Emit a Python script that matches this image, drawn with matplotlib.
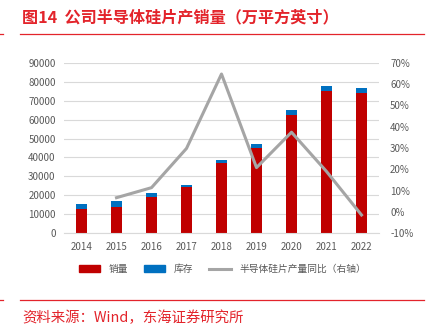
import numpy as np
import matplotlib.pyplot as plt
from matplotlib.lines import Line2D
from matplotlib.patches import Patch

plt.rcParams['font.family'] = ['Noto Sans CJK SC', 'DejaVu Sans']

years = ['2014', '2015', '2016', '2017', '2018', '2019', '2020', '2021', '2022']
sales = [13000, 13700, 19150, 24600, 36900, 45150, 62400, 75050, 74000]
stock = [2450, 3500, 2250, 900, 1800, 1800, 2800, 2500, 2650]
yoy_years = ['2015', '2016', '2017', '2018', '2019', '2020', '2021', '2022']
yoy = [6.7, 11.4, 29.8, 64.7, 20.8, 37.4, 19.0, -1.4]

red = '#C00000'
blue = '#0070C0'
gray = '#A5A5A5'
title_red = '#E3242B'
tick_color = '#595959'

fig = plt.figure(figsize=(4.31, 3.30), dpi=100)
ax = fig.add_axes([64 / 431, 1 - 233.3 / 330, 315 / 431, 170.6 / 330])

x = np.arange(len(years))
w = 0.33
ax.bar(x, sales, w, color=red, zorder=2)
ax.bar(x, stock, w, bottom=sales, color=blue, zorder=2)

ax.set_xlim(-0.5, len(years) - 0.5)
ax.set_ylim(0, 90000)
ax.set_yticks(np.arange(0, 90001, 10000))
ax.set_xticks(x)
ax.set_xticklabels(years)
ax.yaxis.grid(True, color='#D9D9D9', linewidth=0.8, zorder=0)
for s in ax.spines.values():
    s.set_visible(False)
ax.spines['bottom'].set_visible(True)
ax.spines['bottom'].set_color('#D9D9D9')
ax.tick_params(length=0, labelsize=7, colors=tick_color, pad=6)

ax2 = ax.twinx()
xi = [years.index(y) for y in yoy_years]
ax2.plot(xi, yoy, color=gray, linewidth=2.2, zorder=3)
ax2.set_ylim(-10, 70)
ax2.set_yticks(np.arange(-10, 71, 10))
ax2.set_yticklabels([f'{v}%' for v in range(-10, 71, 10)])
for s in ax2.spines.values():
    s.set_visible(False)
ax2.tick_params(length=0, labelsize=7, colors=tick_color, pad=8)

handles = [Patch(color=red), Patch(color=blue), Line2D([0], [0], color=gray, linewidth=2.2)]
labels = ['销量', '库存', '半导体硅片产量同比（右轴）']
fig.legend(handles, labels, loc='center', bbox_to_anchor=(222.5 / 431, 1 - 269 / 330), ncol=3,
           frameon=False, fontsize=7, labelcolor=tick_color, handlelength=2.2,
           handleheight=0.6, columnspacing=1.6, handletextpad=0.9)

fig.text(22 / 431, 1 - 17 / 330, '图14  公司半导体硅片产销量（万平方英寸）', color=title_red,
         fontsize=11.6, fontweight='bold', va='center', ha='left')
fig.add_artist(Line2D([20 / 431, 424 / 431], [1 - 34 / 330] * 2, color=title_red, linewidth=0.9))
fig.add_artist(Line2D([0, 3 / 431], [1 - 34 / 330] * 2, color=title_red, linewidth=0.9))
fig.add_artist(Line2D([20 / 431, 424 / 431], [1 - 300 / 330] * 2, color=title_red, linewidth=0.9))
fig.add_artist(Line2D([0, 3 / 431], [1 - 300 / 330] * 2, color=title_red, linewidth=0.9))
fig.text(22 / 431, 1 - 318 / 330, '资料来源：Wind，东海证券研究所', color=title_red,
         fontsize=10.4, va='center', ha='left')

fig.savefig('out.png', dpi=100)
